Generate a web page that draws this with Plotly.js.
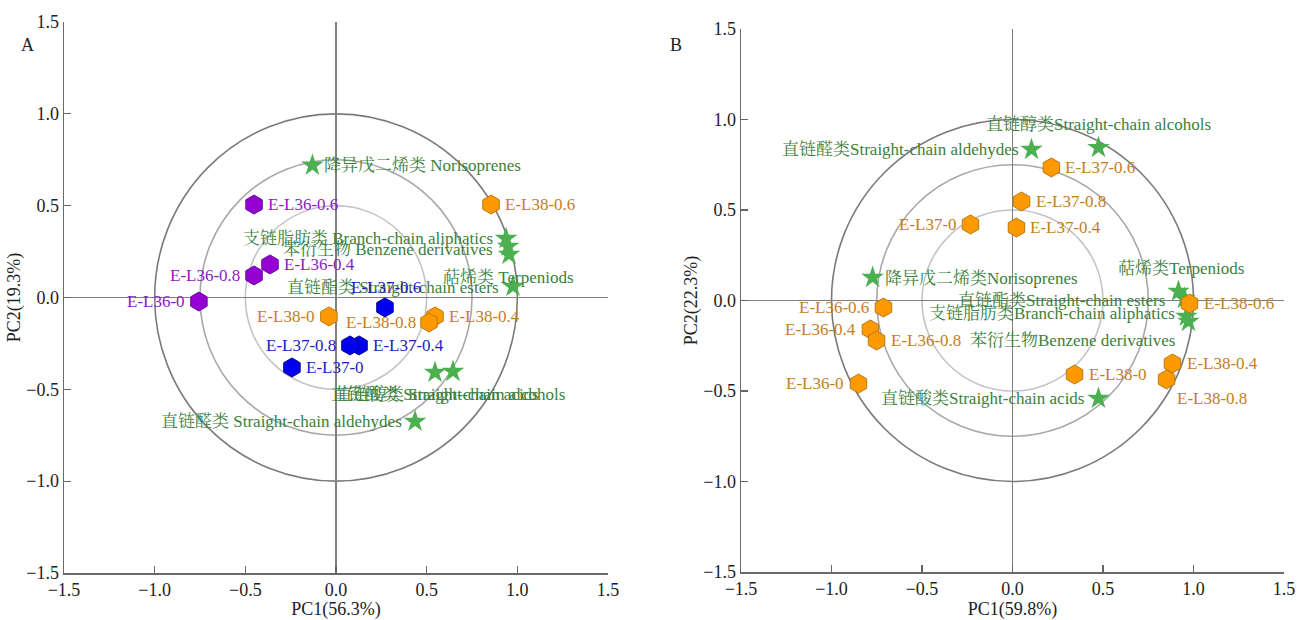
<!DOCTYPE html>
<html>
<head>
<meta charset="utf-8">
<script src="https://cdn.plot.ly/plotly-3.0.1.min.js"></script>
<style>
html,body{margin:0;padding:0;background:#fff;}
#chart{width:1302px;height:620px;}
</style>
</head>
<body>
<div id="chart"></div>
<script>
// ---------- Panel A data ----------
const A_loadNames = ['降异戊二烯类 Norisoprenes','支链脂肪类 Branch-chain aliphatics','苯衍生物 Benzene derivatives','萜烯类 Terpeniods','直链酯类 Straight-chain esters','直链酸类 Straight-chain acids','直链醇类 Straight-chain alcohols','直链醛类 Straight-chain aldehydes'];
const A_loadPC1 = [-0.13, 0.938, 0.949, 0.954, 0.976, 0.546, 0.645, 0.436];
const A_loadPC2 = [0.72, 0.321, 0.278, 0.234, 0.06, -0.408, -0.403, -0.675];

const A_scoreNames = ['E-L36-0.6','E-L36-0.4','E-L36-0.8','E-L36-0','E-L37-0.6','E-L37-0.4','E-L37-0.8','E-L37-0','E-L38-0.6','E-L38-0','E-L38-0.4','E-L38-0.8'];
const A_scoreGroup = ['L36','L36','L36','L36','L37','L37','L37','L37','L38','L38','L38','L38'];
const A_scorePC1 = [-0.452, -0.364, -0.452, -0.756, 0.27, 0.127, 0.077, -0.243, 0.855, -0.039, 0.546, 0.513];
const A_scorePC2 = [0.506, 0.18, 0.12, -0.022, -0.054, -0.261, -0.261, -0.381, 0.506, -0.103, -0.103, -0.136];

// ---------- Panel B data ----------
const B_loadNames = ['直链醇类Straight-chain alcohols','直链醛类Straight-chain aldehydes','降异戊二烯类Norisoprenes','萜烯类Terpeniods','直链酯类Straight-chain esters','支链脂肪类Branch-chain aliphatics','苯衍生物Benzene derivatives','直链酸类Straight-chain acids'];
const B_loadPC1 = [0.475, 0.105, -0.773, 0.917, 0.95, 0.961, 0.972, 0.475];
const B_loadPC2 = [0.845, 0.834, 0.127, 0.05, 0.011, -0.088, -0.116, -0.541];

const B_scoreNames = ['E-L37-0.6','E-L37-0.8','E-L37-0.4','E-L37-0','E-L36-0.6','E-L36-0.4','E-L36-0.8','E-L36-0','E-L38-0.6','E-L38-0.4','E-L38-0.8','E-L38-0'];
const B_scorePC1 = [0.215, 0.05, 0.022, -0.232, -0.713, -0.785, -0.751, -0.851, 0.978, 0.884, 0.851, 0.343];
const B_scorePC2 = [0.735, 0.547, 0.403, 0.42, -0.039, -0.16, -0.221, -0.459, -0.017, -0.348, -0.436, -0.409];

const axisTicks = [-1.5, -1.0, -0.5, 0.0, 0.5, 1.0, 1.5];
const axisTickText = ['\u22121.5','\u22121.0','\u22120.5','0.0','0.5','1.0','1.5'];
const circleRadii = [0.5, 0.75, 1.0];

// ---------- label placement (style) ----------
// [anchor, xshift, yshift]
const A_loadLab = [['left',10,0],['right',-11,0],['right',-13,-3],['center',0,-22],['right',-12,-1],['center',0,-22],['center',-2,-23],['right',-11,0]];
const A_scoreLab = [['left',12,0],['left',12,0],['right',-12,0],['right',-12,0],['center',1,20],['left',12,0],['right',-12,0],['left',12,0],['left',12,0],['right',-12,0],['left',12,0],['right',-11,0]];
const B_loadLab = [['center',0,23],['right',-11,0],['left',10,0],['center',3,23],['right',-17,-2],['right',-9,3],['right',-11,-19],['right',-11,0]];
const B_scoreLab = [['left',12,0],['left',12,0],['left',12,0],['right',-12,0],['right',-12,0],['right',-12,0],['left',12,0],['right',-12,0],['left',12,0],['left',12,0],['left',8,-19],['left',12,0]];

const FONT = '"Liberation Serif", "Times New Roman", "Noto Serif CJK SC", "Noto Sans CJK SC", serif';
const GREEN_TXT = '#3b7f3b', STAR = '#4cb050';
const groupStyle = {
  L36: {fill:'#9400d3', line:'#6a0a9a', txt:'#8a1cc4'},
  L37: {fill:'#0000ee', line:'#00009a', txt:'#1c1cc0'},
  L38: {fill:'#ff9900', line:'#b87a10', txt:'#c47e1e'}
};
const LABEL_SIZE = 17;

const traces = [];
const annotations = [];

function addLabels(names, xs, ys, lab, color, xr, yr) {
  names.forEach((n, i) => {
    annotations.push({
      x: xs[i], y: ys[i], xref: xr, yref: yr, text: n, showarrow: false,
      xanchor: lab[i][0], yanchor: 'middle', xshift: lab[i][1], yshift: lab[i][2],
      font: {family: FONT, size: LABEL_SIZE, color: color}
    });
  });
}

// Panel A stars
traces.push({x: A_loadPC1, y: A_loadPC2, xaxis:'x', yaxis:'y', mode:'markers', type:'scatter',
  marker:{symbol:'star', size:17, color:STAR, line:{width:0}}, hoverinfo:'skip'});
addLabels(A_loadNames, A_loadPC1, A_loadPC2, A_loadLab, GREEN_TXT, 'x', 'y');
// Panel A scores by group
['L36','L37','L38'].forEach(g => {
  const idx = A_scoreGroup.map((v,i)=>v===g?i:-1).filter(i=>i>=0);
  traces.push({x: idx.map(i=>A_scorePC1[i]), y: idx.map(i=>A_scorePC2[i]), xaxis:'x', yaxis:'y',
    mode:'markers', type:'scatter',
    marker:{symbol:'hexagon', size:19, color:groupStyle[g].fill, line:{color:groupStyle[g].line, width:1}}, hoverinfo:'skip'});
});
A_scoreNames.forEach((n,i)=>{
  const lab = A_scoreLab[i];
  annotations.push({x:A_scorePC1[i], y:A_scorePC2[i], xref:'x', yref:'y', text:n, showarrow:false,
    xanchor:lab[0], yanchor:'middle', xshift:lab[1], yshift:lab[2],
    font:{family:FONT, size:LABEL_SIZE, color:groupStyle[A_scoreGroup[i]].txt}});
});

// Panel B stars
traces.push({x: B_loadPC1, y: B_loadPC2, xaxis:'x2', yaxis:'y2', mode:'markers', type:'scatter',
  marker:{symbol:'star', size:17, color:STAR, line:{width:0}}, hoverinfo:'skip'});
addLabels(B_loadNames, B_loadPC1, B_loadPC2, B_loadLab, GREEN_TXT, 'x2', 'y2');
// Panel B scores
traces.push({x: B_scorePC1, y: B_scorePC2, xaxis:'x2', yaxis:'y2', mode:'markers', type:'scatter',
  marker:{symbol:'hexagon', size:19, color:groupStyle.L38.fill, line:{color:groupStyle.L38.line, width:1}}, hoverinfo:'skip'});
addLabels(B_scoreNames, B_scorePC1, B_scorePC2, B_scoreLab, groupStyle.L38.txt, 'x2', 'y2');

// Panel letters
annotations.push({xref:'paper', yref:'paper', x:27/1302, y:1-45/620, text:'A', showarrow:false,
  xanchor:'center', yanchor:'middle', font:{family:FONT, size:18, color:'#222'}});
annotations.push({xref:'paper', yref:'paper', x:676/1302, y:1-45/620, text:'B', showarrow:false,
  xanchor:'center', yanchor:'middle', font:{family:FONT, size:18, color:'#222'}});

// circles
const circleColors = ['#c4c4c4','#a8a8a8','#7a7a7a'];
const shapes = [];
[['x','y'],['x2','y2']].forEach(([xr,yr]) => {
  circleRadii.forEach((r,k) => {
    shapes.push({type:'circle', xref:xr, yref:yr, x0:-r, x1:r, y0:-r, y1:r,
      line:{color:circleColors[k], width:1.6}, layer:'below'});
  });
});

function axis(domain, anchor, title, isY) {
  return {
    domain: domain, anchor: anchor, range:[-1.5,1.5], autorange:false,
    tickvals: axisTicks, ticktext: axisTickText, ticks:'inside', ticklen:7, tickwidth:1.2, tickcolor:'#666',
    showline:true, linecolor:'#6a6a6a', linewidth:1.5, mirror:false, showgrid:false,
    zeroline:true, zerolinecolor:'#808080', zerolinewidth:1.6,
    tickfont:{family:FONT, size:18, color:'#222'},
    title:{text:title, font:{family:FONT, size:18, color:'#222'}, standoff: isY ? 1 : 0},
    automargin:false, fixedrange:true
  };
}

const layout = {
  width:1302, height:620, margin:{l:0, r:0, t:0, b:0},
  paper_bgcolor:'#fff', plot_bgcolor:'#fff', showlegend:false,
  xaxis: axis([64/1302, 608/1302], 'y', 'PC1(56.3%)', false),
  yaxis: axis([1-573/620, 1-22/620], 'x', 'PC2(19.3%)', true),
  xaxis2: axis([741/1302, 1284/1302], 'y2', 'PC1(59.8%)', false),
  yaxis2: axis([1-572/620, 1-29/620], 'x2', 'PC2(22.3%)', true),
  shapes: shapes, annotations: annotations
};

Plotly.newPlot('chart', traces, layout, {displayModeBar:false, staticPlot:true});
</script>
</body>
</html>
